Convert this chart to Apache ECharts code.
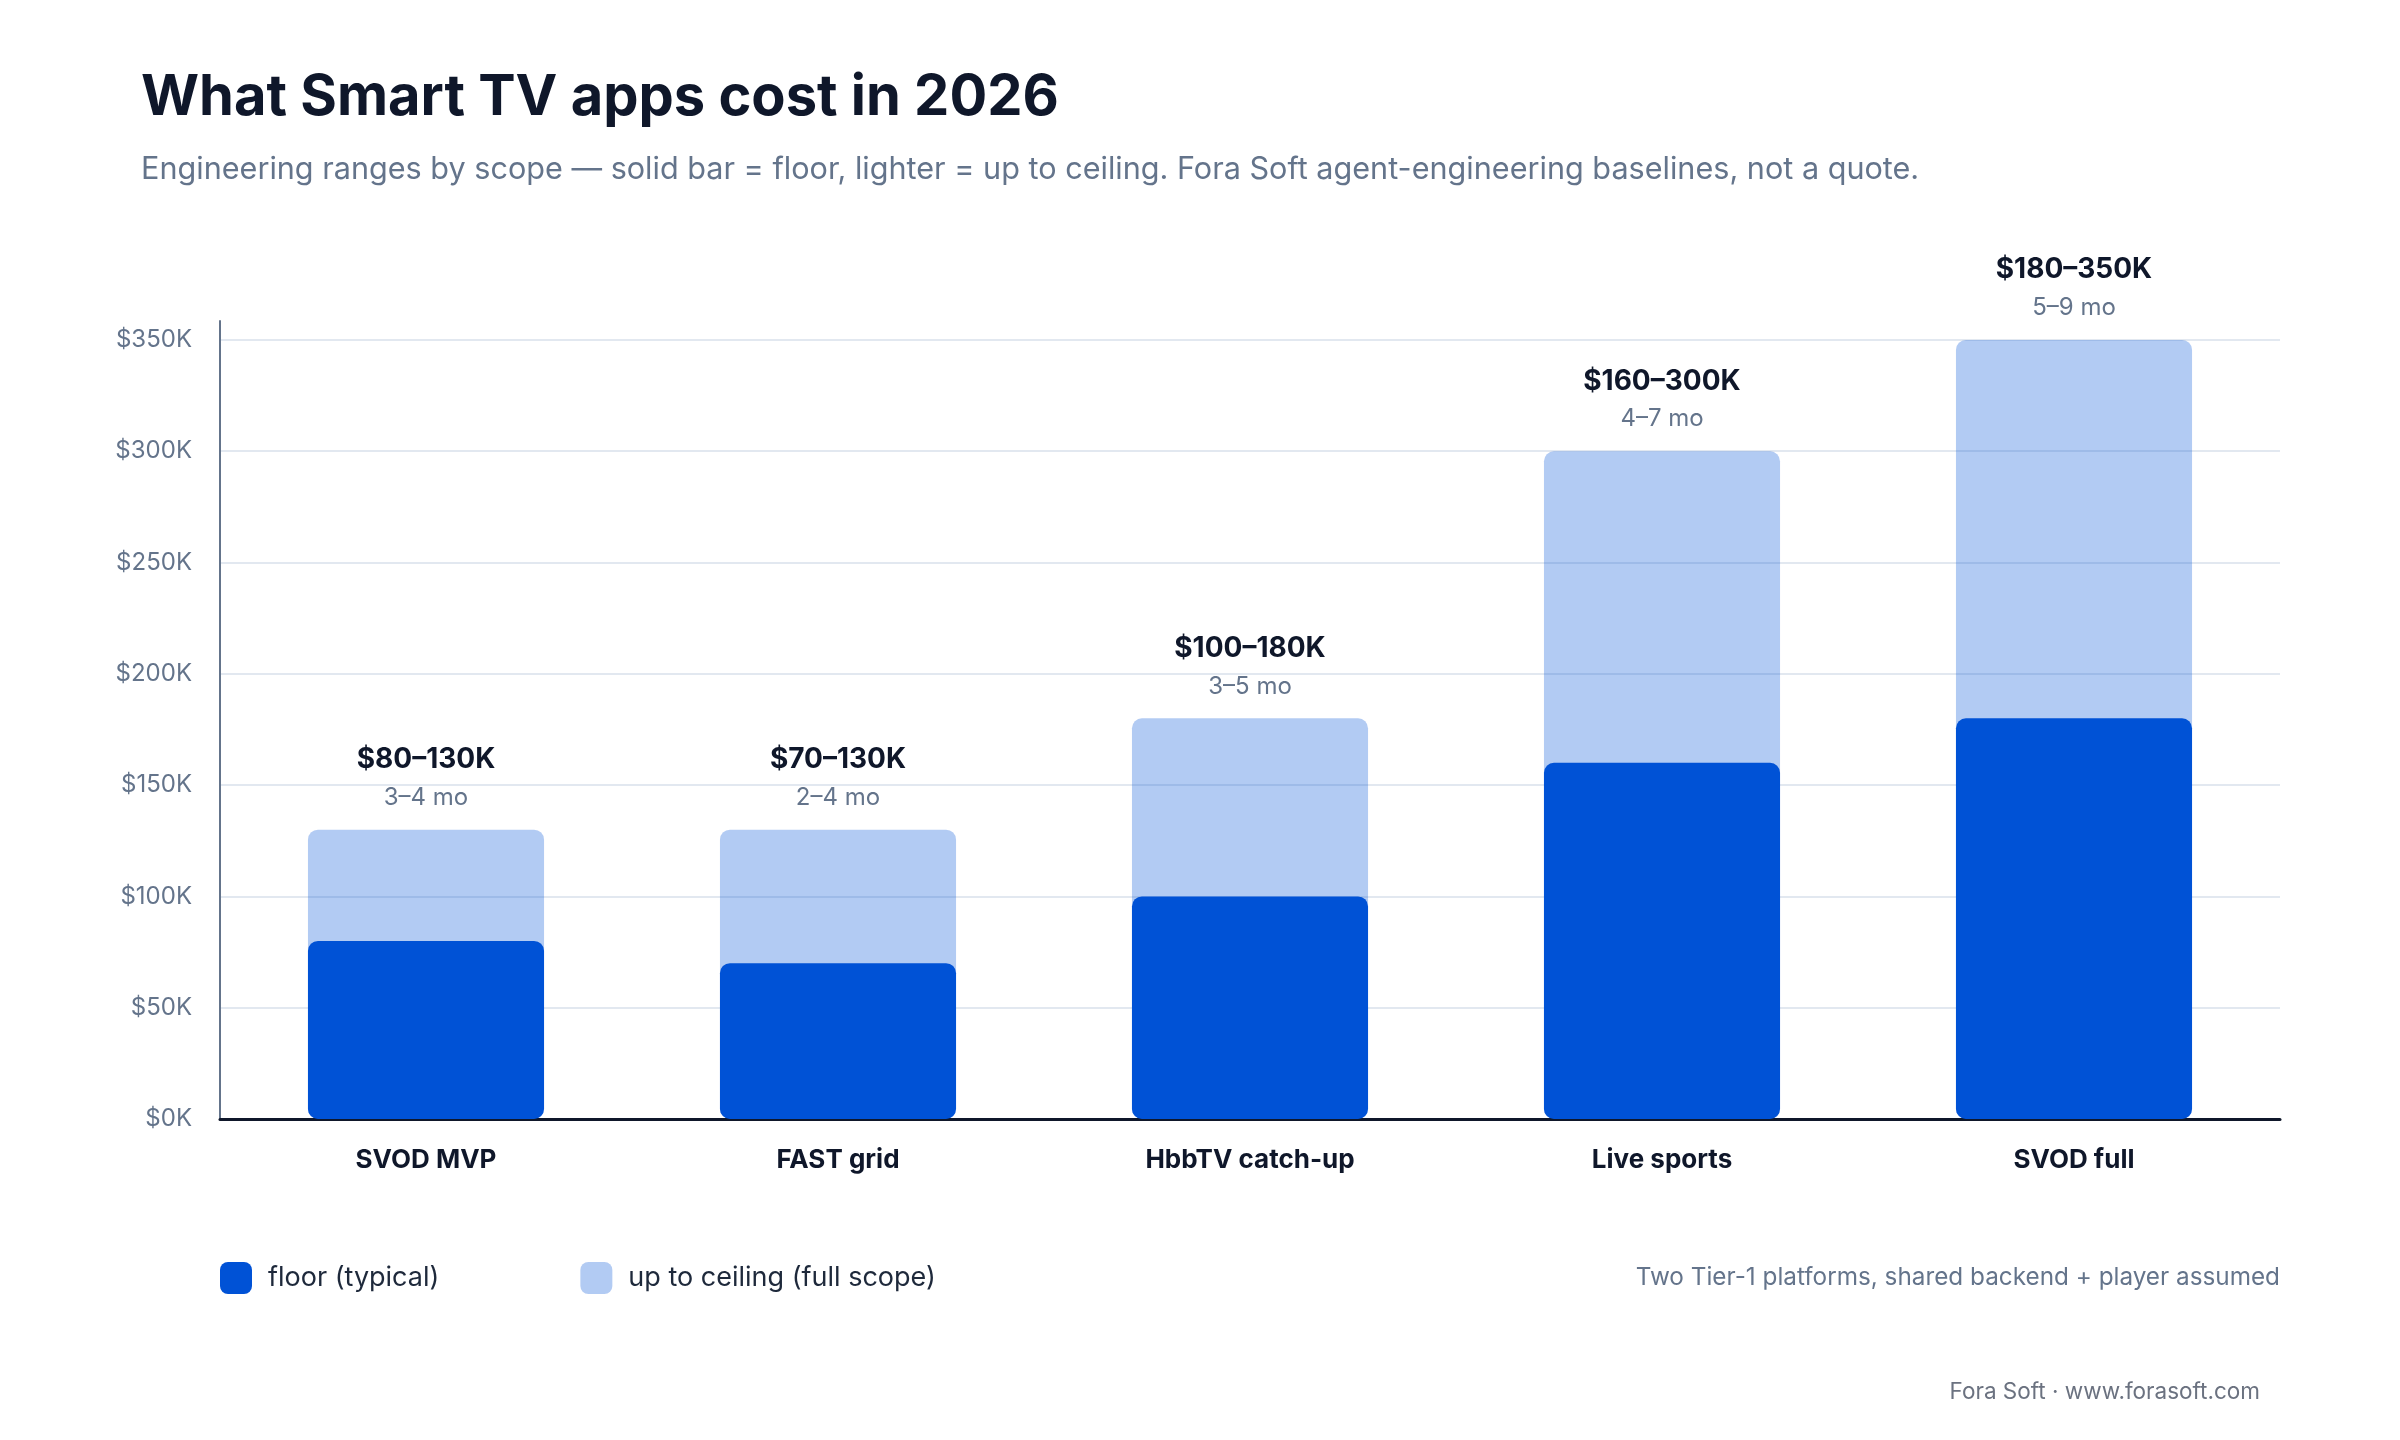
<!DOCTYPE html>
<html>
<head>
<meta charset="utf-8">
<script src="https://cdn.jsdelivr.net/npm/echarts@6/dist/echarts.min.js"></script>
<style>
  html, body { margin: 0; padding: 0; background: #ffffff; }
  #container { width: 2400px; height: 1440px; }
</style>
</head>
<body>
<div id="container"></div>
<script>
// data, in $K
var categories = ['SVOD MVP', 'FAST grid', 'HbbTV catch-up', 'Live sports', 'SVOD full'];
var floorValues = [80, 70, 100, 160, 180];
var ceilingValues = [130, 130, 180, 300, 350];
var durations = ['3–4 mo', '2–4 mo', '3–5 mo', '4–7 mo', '5–9 mo'];
var yTicks = [0, 50, 100, 150, 200, 250, 300, 350];

var dark = '#0052d6';
var light = 'rgba(0,82,214,0.3)';
var ink = '#0f172a';
var slate = '#64748b';
var font = 'Inter';

var dom = document.getElementById('container');
var myChart = echarts.init(dom, null, { renderer: 'canvas' });

var option = {
    backgroundColor: '#ffffff',
    animation: false,
    textStyle: { fontFamily: font },
    graphic: [
        {
            type: 'text', x: 141, y: 98,
            style: { text: 'What Smart TV apps cost in 2026', fill: ink,
                font: '700 56px Inter', verticalAlign: 'middle' }
        },
        {
            type: 'text', x: 141, y: 170,
            style: { text: 'Engineering ranges by scope — solid bar = floor, lighter = up to ceiling. Fora Soft agent-engineering baselines, not a quote.',
                fill: slate, font: '400 30.6px Inter', verticalAlign: 'middle' }
        },
        {
            type: 'text', x: 2280, y: 1278,
            style: { text: 'Two Tier-1 platforms, shared backend + player assumed', fill: slate,
                font: '400 24.3px Inter', align: 'right', verticalAlign: 'middle' }
        },
        {
            type: 'text', x: 2260, y: 1392,
            style: { text: 'Fora Soft · www.forasoft.com', fill: '#6b7280',
                font: '400 22.5px Inter', align: 'right', verticalAlign: 'middle' }
        }
    ],
    legend: {
        data: ['floor (typical)', 'up to ceiling (full scope)'],
        left: 220,
        top: 1262,
        padding: 0,
        icon: 'roundRect',
        itemWidth: 32,
        itemHeight: 32,
        itemGap: 141,
        selectedMode: false,
        textStyle: { color: '#1e293b', fontSize: 27, fontFamily: font, padding: [0, 0, 0, 11] }
    },
    grid: {
        left: 220,
        right: 120,
        top: 321,
        bottom: 321,
        containLabel: false
    },
    xAxis: {
        type: 'category',
        data: categories,
        axisLine: { lineStyle: { color: ink, width: 3 } },
        axisTick: { show: false },
        axisLabel: { color: ink, fontSize: 26, fontWeight: 700, fontFamily: font, margin: 28 }
    },
    yAxis: {
        type: 'value',
        min: 0,
        max: 358.5,
        interval: 50,
        axisLine: { show: true, lineStyle: { color: slate, width: 2 } },
        axisTick: { show: false },
        axisLabel: {
            color: slate, fontSize: 24, fontFamily: font, margin: 28,
            showMaxLabel: false,
            formatter: function (v) {
                return yTicks.indexOf(v) >= 0 ? '$' + v + 'K' : '';
            }
        },
        splitLine: { show: true, showMaxLine: false, lineStyle: { color: '#e2e8f0', width: 2 } }
    },
    series: [
        {
            name: 'up to ceiling (full scope)',
            type: 'bar',
            data: ceilingValues,
            barWidth: '57.3%',
            barGap: '-100%',
            itemStyle: { color: light, borderRadius: 10 },
            label: {
                show: true,
                position: 'top',
                distance: 17,
                formatter: function (p) {
                    var i = p.dataIndex;
                    return '{v|$' + floorValues[i] + '–' + ceilingValues[i] + 'K}\n{m|' + durations[i] + '}';
                },
                rich: {
                    v: { fontSize: 28, fontWeight: 700, color: ink, fontFamily: font, lineHeight: 46 },
                    m: { fontSize: 24, color: slate, fontFamily: font, lineHeight: 30 }
                }
            }
        },
        {
            name: 'floor (typical)',
            type: 'bar',
            data: floorValues,
            barWidth: '57.3%',
            barGap: '-100%',
            itemStyle: { color: dark, borderRadius: 10 }
        }
    ]
};

myChart.setOption(option, true);
</script>
</body>
</html>
